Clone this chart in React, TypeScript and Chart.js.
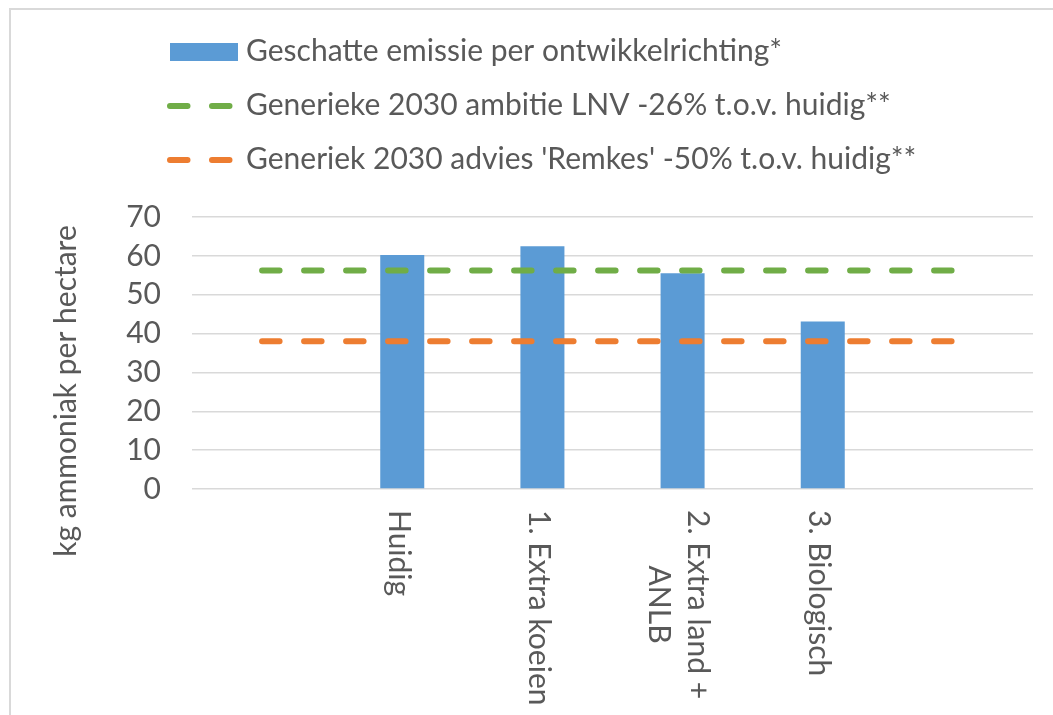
import { useEffect, useRef } from "react";
import { Chart, registerables } from "chart.js";

Chart.register(...registerables);

// Categories (multi-line labels as arrays); the outer empty slots give the reference lines room.
const categories: string[][] = [
  [""],
  ["Huidig"],
  ["1. Extra koeien"],
  ["2. Extra land +", "ANLB"],
  ["3. Biologisch"],
  [""],
];

// kg ammoniak per hectare
const emissie: (number | null)[] = [null, 60.2, 62.5, 55.5, 43.1, null];
const ambitieLNV: number[] = [56.2, 56.2, 56.2, 56.2, 56.2, 56.2];
const adviesRemkes: number[] = [38, 38, 38, 38, 38, 38];

const seriesLabels: string[] = [
  "Geschatte emissie per ontwikkelrichting*",
  "Generieke 2030 ambitie LNV -26% t.o.v. huidig**",
  "Generiek 2030 advies 'Remkes' -50% t.o.v. huidig**",
];

const yMin = 0;
const yMax = 70;
const yStep = 10;
const yTitle = "kg ammoniak per hectare";

const FONT_FAMILY = "Lato, 'Open Sans', sans-serif";
const FONT_SIZE = 30;
const TEXT_COLOR = "#595959";
const GRID_COLOR = "#D9D9D9";
const BAR_COLOR = "#5B9BD5";
const GREEN = "#70AD47";
const ORANGE = "#ED7D31";
const DASH = [17.5, 24.5];
const LINE_W = 6;

// Draws the legend, the rotated category labels and the vertical axis title.
const decorPlugin = {
  id: "decor",
  afterDraw(chart: any) {
    const ctx: CanvasRenderingContext2D = chart.ctx;
    const xs = chart.scales.x;
    const font = `${FONT_SIZE}px ${FONT_FAMILY}`;
    ctx.save();
    ctx.fillStyle = TEXT_COLOR;
    ctx.font = font;

    // category labels, turned a quarter clockwise, hanging under the axis
    const lineH = 39;
    categories.forEach((lines, i) => {
      if (!lines.join("")) return;
      const cx = xs.getPixelForValue(i) - 4;
      const maxW = Math.max(...lines.map((l) => ctx.measureText(l).width));
      ctx.save();
      ctx.translate(cx, xs.top + 21);
      ctx.rotate(Math.PI / 2);
      ctx.textAlign = "center";
      ctx.textBaseline = "middle";
      lines.forEach((l, j) => {
        ctx.fillText(l, maxW / 2, (j - (lines.length - 1) / 2) * lineH);
      });
      ctx.restore();
    });

    // y axis title
    ctx.save();
    ctx.translate(66, 391);
    ctx.rotate(-Math.PI / 2);
    ctx.textAlign = "center";
    ctx.textBaseline = "middle";
    ctx.fillText(yTitle, 0, 0);
    ctx.restore();

    // legend
    const rows = [52, 106, 160];
    chart.data.datasets.forEach((ds: any, i: number) => {
      const cy = rows[i];
      if (ds.type === "line") {
        ctx.save();
        ctx.strokeStyle = ds.borderColor;
        ctx.lineWidth = LINE_W;
        ctx.lineCap = "round";
        ctx.setLineDash(DASH);
        ctx.beginPath();
        ctx.moveTo(170, cy);
        ctx.lineTo(231, cy);
        ctx.stroke();
        ctx.restore();
      } else {
        ctx.fillStyle = ds.backgroundColor;
        ctx.fillRect(170, cy - 9, 68, 18);
      }
      ctx.fillStyle = TEXT_COLOR;
      ctx.textAlign = "left";
      ctx.textBaseline = "alphabetic";
      ctx.fillText(ds.label, 246, cy + 9);
    });

    ctx.restore();
  },
};

export default function App() {
  const canvasRef = useRef<HTMLCanvasElement | null>(null);

  useEffect(() => {
    if (!canvasRef.current) return;
    const chart = new Chart(canvasRef.current, {
      type: "bar",
      data: {
        labels: categories,
        datasets: [
          {
            type: "bar",
            label: seriesLabels[0],
            data: emissie,
            backgroundColor: BAR_COLOR,
            barPercentage: 0.314,
            categoryPercentage: 1,
            order: 2,
          },
          {
            type: "line",
            label: seriesLabels[1],
            data: ambitieLNV,
            borderColor: GREEN,
            backgroundColor: GREEN,
            borderWidth: LINE_W,
            borderDash: DASH,
            borderCapStyle: "round",
            pointRadius: 0,
            tension: 0,
            order: 1,
          },
          {
            type: "line",
            label: seriesLabels[2],
            data: adviesRemkes,
            borderColor: ORANGE,
            backgroundColor: ORANGE,
            borderWidth: LINE_W,
            borderDash: DASH,
            borderCapStyle: "round",
            pointRadius: 0,
            tension: 0,
            order: 0,
          },
        ] as any,
      },
      options: {
        animation: false,
        responsive: true,
        maintainAspectRatio: false,
        devicePixelRatio: 1,
        layout: { padding: { top: 217, right: 20, left: 0, bottom: 0 } },
        plugins: {
          legend: { display: false },
          tooltip: { enabled: false },
          title: { display: false },
        },
        scales: {
          x: {
            grid: { display: false },
            border: { display: false },
            ticks: { display: false },
            afterFit: (s: any) => {
              s.height = 226;
            },
          },
          y: {
            min: yMin,
            max: yMax,
            grid: { color: GRID_COLOR, lineWidth: 1.5, drawTicks: false },
            border: { display: false },
            ticks: {
              stepSize: yStep,
              autoSkip: false,
              padding: 31,
              color: TEXT_COLOR,
              font: { family: FONT_FAMILY, size: FONT_SIZE },
            },
            afterFit: (s: any) => {
              s.width = 192;
            },
          },
        },
      },
      plugins: [decorPlugin],
    });
    return () => chart.destroy();
  }, []);

  return (
    <div
      style={{
        position: "fixed",
        left: 0,
        top: 0,
        width: 1053,
        height: 715,
        overflow: "hidden",
        background: "#fff",
      }}
    >
      <div
        style={{
          position: "absolute",
          left: 9,
          top: 8,
          width: 1100,
          height: 760,
          borderLeft: `2px solid ${GRID_COLOR}`,
          borderTop: `2px solid ${GRID_COLOR}`,
          boxSizing: "border-box",
        }}
      />
      <canvas
        ref={canvasRef}
        style={{ position: "absolute", left: 0, top: 0, width: 1053, height: 715 }}
      />
    </div>
  );
}
